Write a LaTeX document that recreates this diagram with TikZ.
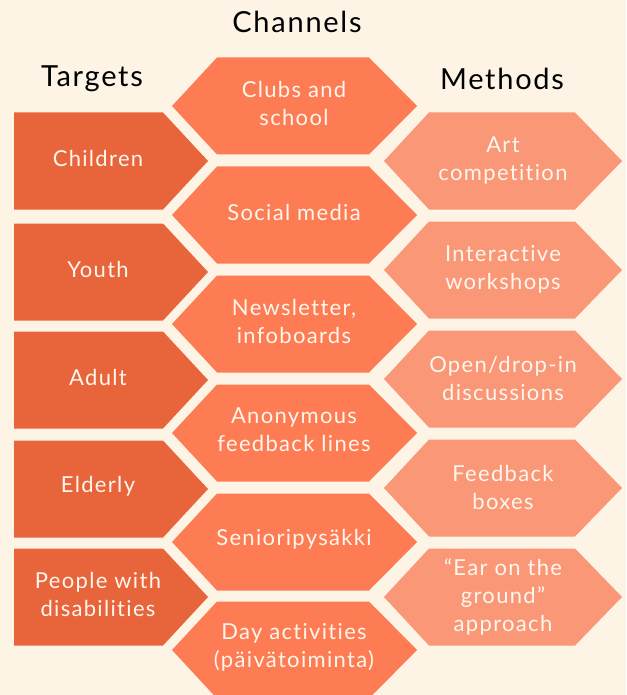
\documentclass[tikz,border=0pt]{standalone}
\usepackage{fontspec}
\setmainfont{Lato}[LetterSpace=6,Ligatures=NoCommon]
\definecolor{bgcream}{HTML}{FDF4E6}
\definecolor{tgtcol}{HTML}{E8643A}
\definecolor{chancol}{HTML}{FE7C53}
\definecolor{methcol}{HTML}{F99777}
\definecolor{txtcol}{HTML}{FFF6EE}
\tikzset{
  lbl/.style={text=txtcol, font=\fontsize{22}{28}\selectfont, align=center, inner sep=0pt, yshift=3pt},
  hdr/.style={text=black, font=\fontsize{29}{30}\selectfont, inner sep=0pt},
}
% target arrow: centre y, name, text
\newcommand{\tgtbox}[3]{%
  \fill[tgtcol] (14,#1-48.5) -- (163,#1-48.5) -- (208,#1) -- (163,#1+48.5) -- (14,#1+48.5) -- cycle;
  \node[lbl] (#2) at (98,#1) {#3};}
% channel hexagon
\newcommand{\chanbox}[3]{%
  \fill[chancol] (172,#1) -- (217,#1-48.5) -- (369,#1-48.5) -- (417,#1) -- (369,#1+48.5) -- (217,#1+48.5) -- cycle;
  \node[lbl] (#2) at (294,#1) {#3};}
% method hexagon
\newcommand{\methbox}[3]{%
  \fill[methcol] (384,#1) -- (429,#1-48.5) -- (575,#1-48.5) -- (622,#1) -- (575,#1+48.5) -- (429,#1+48.5) -- cycle;
  \node[lbl, yshift=-2.5pt] (#2) at (503,#1) {#3};}
\begin{document}
\begin{tikzpicture}[x=1pt,y=-1pt]
\fill[bgcream] (0,0) rectangle (626,695);
\useasboundingbox (0,0) rectangle (626,695);

\node[hdr] (hchan) at (297,22) {Channels};
\node[hdr] (htgt) at (92,79) {Targets};
\node[hdr] (hmeth) at (502,79) {Methods};

\tgtbox{161}{t1}{Children}
\tgtbox{272}{t2}{Youth}
\tgtbox{380}{t3}{Adult}
\tgtbox{489}{t4}{Elderly}
\tgtbox{597}{t5}{People with\\disabilities}

\chanbox{106}{c1}{Clubs and\\school}
\chanbox{215}{c2}{Social media}
\chanbox{324}{c3}{Newsletter,\\infoboards}
\chanbox{433}{c4}{Anonymous\\feedback lines}
\chanbox{542}{c5}{Senioripysäkki}
\chanbox{650}{c6}{Day activities\\(päivätoiminta)}

\methbox{161}{m1}{Art\\competition}
\methbox{270}{m2}{Interactive\\workshops}
\methbox{379}{m3}{Open/drop-in\\discussions}
\methbox{488}{m4}{Feedback\\boxes}
\methbox{597}{m5}{“Ear on the\\ground”\\approach}
\end{tikzpicture}
\end{document}
